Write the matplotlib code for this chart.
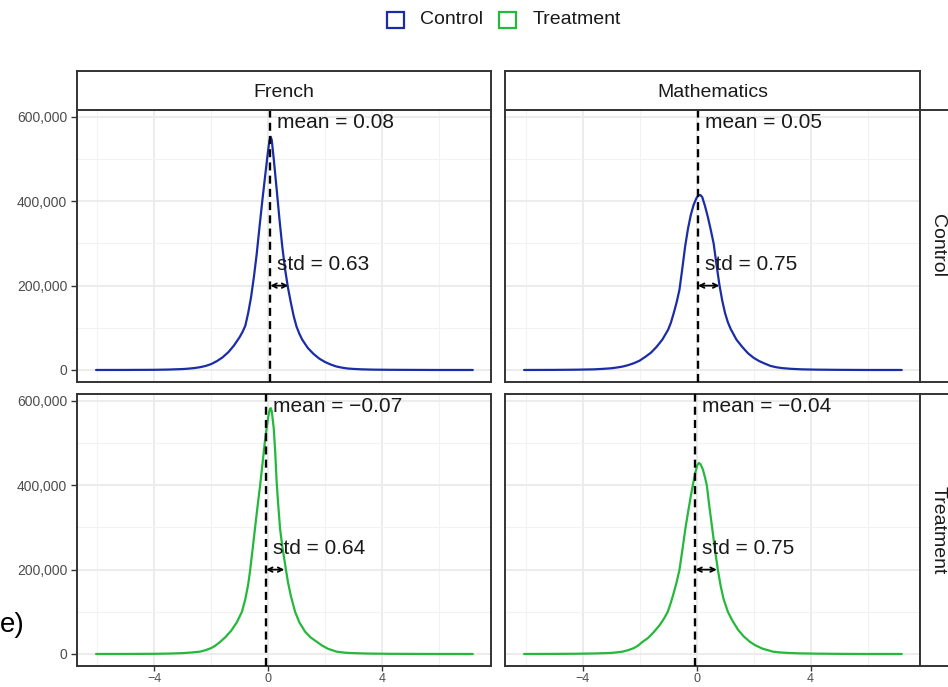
import matplotlib
matplotlib.use("Agg")
import matplotlib.pyplot as plt
from matplotlib.patches import Rectangle
from matplotlib.ticker import FuncFormatter, FixedLocator

plt.rcParams['font.family'] = ['Liberation Sans', 'DejaVu Sans']

# ---------------- data ----------------
subjects = ["French", "Mathematics"]
groups = ["Control", "Treatment"]
colors = {"Control": "#1B2DA6", "Treatment": "#25B83A"}

means = {("Control", "French"): 0.08, ("Control", "Mathematics"): 0.05,
         ("Treatment", "French"): -0.07, ("Treatment", "Mathematics"): -0.04}
stds = {("Control", "French"): 0.63, ("Control", "Mathematics"): 0.75,
        ("Treatment", "French"): 0.64, ("Treatment", "Mathematics"): 0.75}

# density curves (count scale, in thousands)
fc_x = [-6.05, -5, -4, -3.5, -3, -2.8, -2.6, -2.4, -2.2, -2.0, -1.8, -1.6, -1.4, -1.2, -1.0,
        -0.9, -0.8, -0.7, -0.6, -0.5, -0.4, -0.3, -0.2, -0.1, 0.0, 0.05, 0.09, 0.13, 0.2,
        0.3, 0.4, 0.5, 0.6, 0.7, 0.8, 0.9, 1.0, 1.1, 1.2, 1.4, 1.6, 1.8, 2.0, 2.2, 2.4, 2.6,
        2.8, 3.0, 3.3, 3.7, 4.3, 5, 6, 7.2]
fc_y = [0, 0.1, 0.4, 1.0, 2.2, 3.2, 4.5, 6.5, 9.5, 14, 21, 30, 42, 58, 78,
        90, 105, 135, 172, 220, 275, 340, 403, 462, 520, 545, 553, 545, 500,
        430, 358, 292, 238, 195, 160, 128, 103, 86, 72, 52, 38, 27, 19, 13, 8.3, 5.5,
        3.5, 2.5, 1.5, 0.8, 0.4, 0.2, 0, 0]

mc_x = [-6.05, -5, -4.2, -3.6, -3.3, -3.0, -2.8, -2.6, -2.4, -2.2, -2.0, -1.8, -1.6, -1.4,
        -1.2, -1.0, -0.9, -0.8, -0.7, -0.6, -0.5, -0.4, -0.3, -0.2, -0.1, 0.0, 0.07, 0.13,
        0.2, 0.3, 0.4, 0.5, 0.6, 0.7, 0.8, 0.9, 1.0, 1.1, 1.2, 1.4, 1.6, 1.8, 2.0, 2.2, 2.4,
        2.6, 2.8, 3.0, 3.3, 3.7, 4.2, 5, 6, 7.2]
mc_y = [0, 0.2, 0.7, 1.5, 2.6, 4, 5.8, 8, 11.5, 16, 22, 31, 41, 55,
        72, 95, 112, 135, 160, 190, 240, 293, 335, 368, 392, 408, 414, 415,
        410, 388, 362, 332, 300, 250, 203, 165, 135, 113, 97, 72, 55, 40, 29, 21, 15,
        9.5, 6.5, 4.5, 2.8, 1.5, 0.8, 0.3, 0, 0]

ft_x = [-6.05, -5, -4, -3.5, -3.0, -2.7, -2.39, -2.2, -2.0, -1.85, -1.68, -1.5, -1.3, -1.1,
        -0.92, -0.8, -0.7, -0.63, -0.55, -0.46, -0.37, -0.28, -0.19, -0.1, 0.0, 0.06, 0.095,
        0.13, 0.2, 0.25, 0.3, 0.35, 0.42, 0.5, 0.63, 0.7, 0.8, 0.95, 1.1, 1.3, 1.5, 1.71,
        1.9, 2.1, 2.41, 2.7, 3.0, 3.5, 4.3, 5, 6, 7.2]
ft_y = [0, 0.1, 0.4, 1.0, 2, 3.5, 5.5, 9, 14, 20, 29, 40, 55, 75,
        100, 130, 165, 199, 245, 298, 350, 400, 455, 511, 560, 580, 583,
        575, 535, 480, 410, 360, 298, 255, 199, 170, 138, 100, 75, 53, 39, 29,
        20, 12.5, 5.5, 3, 2, 1, 0.4, 0.2, 0, 0]

mt_x = [-6.05, -5, -4.2, -3.6, -3.2, -3.0, -2.8, -2.6, -2.4, -2.2, -2.05, -1.89, -1.7, -1.5,
        -1.3, -1.15, -1.01, -0.9, -0.8, -0.7, -0.6, -0.5, -0.39, -0.3, -0.2, -0.13, -0.05,
        0.02, 0.08, 0.14, 0.22, 0.3, 0.36, 0.45, 0.55, 0.65, 0.75, 0.85, 0.95, 1.1, 1.25,
        1.45, 1.65, 1.87, 2.05, 2.3, 2.5, 2.68, 2.9, 3.2, 3.6, 4.2, 5, 6, 7.2]
mt_y = [0, 0.2, 0.6, 1.2, 2, 2.5, 3.8, 5.5, 9, 14, 20, 29, 38, 52,
        68, 83, 100, 122, 145, 170, 199, 245, 298, 335, 375, 400, 428,
        447, 453, 450, 438, 418, 400, 350, 298, 245, 199, 160, 130, 100, 80,
        58, 42, 29, 21, 13, 9, 5.5, 3.8, 2.5, 1.5, 0.8, 0.3, 0, 0]

curves = {("Control", "French"): (fc_x, fc_y), ("Control", "Mathematics"): (mc_x, mc_y),
          ("Treatment", "French"): (ft_x, ft_y), ("Treatment", "Mathematics"): (mt_x, mt_y)}

x_major = [-4, 0, 4]
x_minor = [-6, -2, 2, 6]
y_major = [0, 200000, 400000, 600000]
y_minor = [100000, 300000, 500000]

# ---------------- figure ----------------
W, H = 948, 687
fig = plt.figure(figsize=(W / 100, H / 100), dpi=100)

def fx(px):
    return px / W

def fy(py):
    return 1 - py / H

col_x = [(77, 491), (505, 920)]
row_y = [(110, 382), (394, 666)]
border = "#333333"

def fmt_comma(v, pos):
    return f"{int(round(v)):,}"

def fmt_minus(v, pos):
    s = f"{v:g}"
    return s.replace("-", "\u2212")

for r, g in enumerate(groups):
    for c, s in enumerate(subjects):
        x0, x1 = col_x[c]
        y0, y1 = row_y[r]
        ax = fig.add_axes([fx(x0), fy(y1), fx(x1 - x0), (y1 - y0) / H])
        ax.set_xlim(-6.72, 7.84)
        ax.set_ylim(-28500, 616500)
        for v in x_minor:
            ax.axvline(v, color="#F2F2F2", lw=0.8, zorder=0)
        for v in x_major:
            ax.axvline(v, color="#EBEBEB", lw=1.3, zorder=0)
        for v in y_minor:
            ax.axhline(v, color="#F2F2F2", lw=0.8, zorder=0)
        for v in y_major:
            ax.axhline(v, color="#EBEBEB", lw=1.3, zorder=0)

        xs, ys = curves[(g, s)]
        ax.plot(xs, [v * 1000 for v in ys], color=colors[g], lw=1.6, zorder=3,
                solid_joinstyle="round", solid_capstyle="round")
        m = means[(g, s)]
        sd = stds[(g, s)]
        ax.axvline(m, color="black", lw=1.7, ls=(0, (3.4, 2.2)), zorder=4)
        ax.annotate("", xy=(m + sd, 200000), xytext=(m, 200000),
                    arrowprops=dict(arrowstyle="<->", color="black", lw=1.3,
                                    shrinkA=0, shrinkB=0, mutation_scale=8),
                    zorder=5)
        mtxt = f"mean = {m:.2f}".replace("-", "\u2212")
        ax.annotate(mtxt, xy=(m, 588000), xytext=(5, 0), textcoords="offset points",
                    ha="left", va="center", fontsize=15, color="#1a1a1a")
        ax.annotate(f"std = {sd:.2f}", xy=(m, 251000), xytext=(5, 0),
                    textcoords="offset points", ha="left", va="center",
                    fontsize=15, color="#1a1a1a")

        for sp in ax.spines.values():
            sp.set_color(border)
            sp.set_linewidth(1.4)
        ax.xaxis.set_major_locator(FixedLocator(x_major))
        ax.yaxis.set_major_locator(FixedLocator(y_major))
        ax.xaxis.set_major_formatter(FuncFormatter(fmt_minus))
        ax.yaxis.set_major_formatter(FuncFormatter(fmt_comma))
        ax.tick_params(axis="y", length=4, width=1.0, color=border,
                       labelsize=10, labelcolor="#4D4D4D", pad=3)
        ax.tick_params(axis="x", length=3.5, width=1.0, color=border,
                       labelsize=9, labelcolor="#4D4D4D", pad=1.2)
        if c != 0:
            ax.tick_params(axis="y", left=False, labelleft=False)
        if r != 1:
            ax.tick_params(axis="x", bottom=False, labelbottom=False)

# top strips
for c, s in enumerate(subjects):
    x0, x1 = col_x[c]
    sax = fig.add_axes([fx(x0), fy(110), fx(x1 - x0), 39 / H])
    sax.set_xticks([]); sax.set_yticks([])
    sax.set_facecolor("white")
    for sp in sax.spines.values():
        sp.set_color(border); sp.set_linewidth(1.4)
    sax.text(0.5, 0.44, s, ha="center", va="center", fontsize=14, color="#1a1a1a",
             transform=sax.transAxes)

# right strips (cut by the figure edge)
for r, g in enumerate(groups):
    y0, y1 = row_y[r]
    sax = fig.add_axes([fx(920), fy(y1), fx(40), (y1 - y0) / H])
    sax.set_xticks([]); sax.set_yticks([])
    sax.set_facecolor("white")
    for sp in sax.spines.values():
        sp.set_color(border); sp.set_linewidth(1.4)
    fig.text(fx(938), fy((y0 + y1) / 2), g, rotation=-90, ha="center", va="center",
             fontsize=14, color="#1a1a1a")

# legend
leg_items = [("Control", 387, 420), ("Treatment", 499, 533)]
for name, sx, tx in leg_items:
    fig.patches.append(Rectangle((fx(sx), fy(28)), fx(17), 16 / H, fill=False,
                                 edgecolor=colors[name], lw=1.6,
                                 transform=fig.transFigure))
    fig.text(fx(tx), fy(20), name, ha="left", va="center", fontsize=14, color="#1a1a1a")

# partially visible axis title at the left edge
fig.text(0.0, fy(625), "e)", ha="left", va="center", fontsize=20, color="black")

fig.savefig("out.png", dpi=100, facecolor="white")
